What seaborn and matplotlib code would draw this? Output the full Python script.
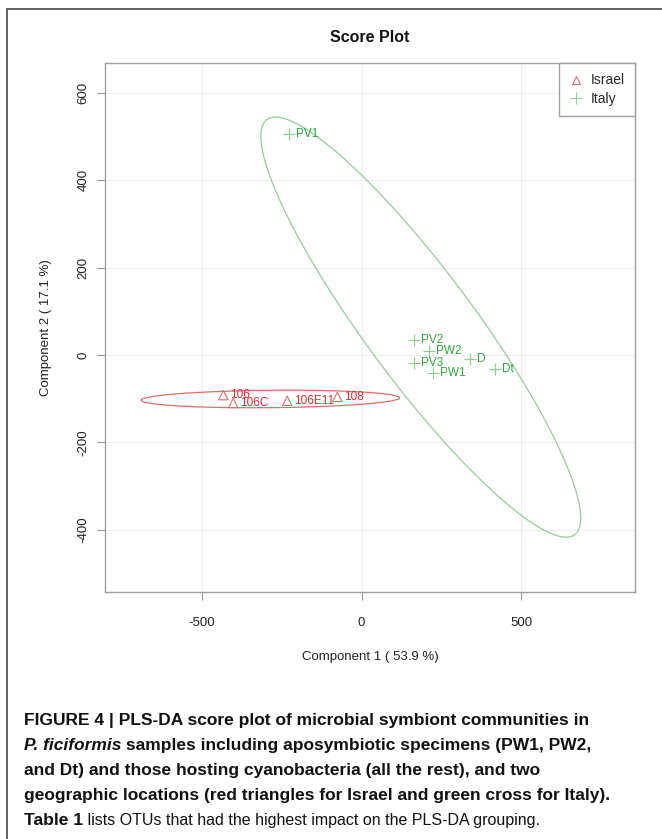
import numpy as np
import pandas as pd
import matplotlib
matplotlib.use('Agg')
import matplotlib.pyplot as plt
from matplotlib.lines import Line2D
from matplotlib.patches import Rectangle
from matplotlib import font_manager
import seaborn as sns

sns.set_style('white')
plt.rcParams['font.family'] = ['Liberation Sans', 'DejaVu Sans']

# PLS-DA scores
samples = ['106', '106C', '106E11', '108',
           'PV1', 'PV2', 'PW2', 'D', 'PV3', 'PW1', 'Dt']
location = ['Israel'] * 4 + ['Italy'] * 7
comp1 = [-433, -402, -233, -76, -227, 165, 212, 340, 165, 225, 419]
comp2 = [-92, -110, -105, -96, 506, 34, 9, -9, -19, -41, -33]

groups = ['Israel', 'Italy']
group_colors = {'Israel': '#E3262E', 'Italy': '#2EA53A'}
ellipse_colors = {'Israel': '#E46A6A', 'Italy': '#8FD08F'}
x_ticks = [-500, 0, 500]
y_ticks = [-400, -200, 0, 200, 400, 600]

caption = [
    [('FIGURE 4 | PLS-DA score plot of microbial symbiont communities in', 'bold', 'normal')],
    [('P. ficiformis', 'bold', 'italic'),
     (' samples including aposymbiotic specimens (PW1, PW2,', 'bold', 'normal')],
    [('and Dt) and those hosting cyanobacteria (all the rest), and two', 'bold', 'normal')],
    [('geographic locations (red triangles for Israel and green cross for Italy).', 'bold', 'normal')],
    [('Table 1', 'bold', 'normal'),
     (' lists OTUs that had the highest impact on the PLS-DA grouping.', 'normal', 'normal')],
]

df = pd.DataFrame({'sample': samples, 'group': location, 'comp1': comp1, 'comp2': comp2})


def conf_ellipse(x, y, chi2=5.991, n=300):
    # 95% confidence ellipse around the group mean
    xy = np.column_stack([x, y]).astype(float)
    c = xy.mean(axis=0)
    cov = np.cov(xy, rowvar=False)
    vals, vecs = np.linalg.eigh(cov)
    t = np.linspace(0, 2 * np.pi, n)
    circ = np.column_stack([np.cos(t), np.sin(t)])
    return c + (circ * np.sqrt(vals * chi2)) @ vecs.T


W, H = 662, 839
fig = plt.figure(figsize=(W / 100, H / 100), dpi=100)
ax = fig.add_axes([105 / W, 1 - 592 / H, 530 / W, 529 / H])

# outer frame of the figure panel
fig.patches.append(Rectangle((7 / W, -0.05), 1.1, 1 - 9 / H + 0.05,
                             transform=fig.transFigure, fill=False,
                             edgecolor='#555555', lw=1.3))

for g in groups:
    sub = df[df['group'] == g]
    e = conf_ellipse(sub['comp1'], sub['comp2'])
    ax.plot(e[:, 0], e[:, 1], color=ellipse_colors[g], lw=0.9, zorder=2)

isr = df[df['group'] == 'Israel']
ita = df[df['group'] == 'Italy']
sns.scatterplot(data=isr, x='comp1', y='comp2', marker='^', s=45,
                facecolors='none', edgecolor=ellipse_colors['Israel'],
                linewidth=0.8, ax=ax, zorder=3)
sns.scatterplot(data=ita, x='comp1', y='comp2', marker='+', s=70,
                color=ellipse_colors['Italy'], linewidth=0.9, ax=ax, zorder=3)

for _, r in df.iterrows():
    ax.annotate(r['sample'], (r['comp1'], r['comp2']), xytext=(5, 0),
                textcoords='offset points', va='center', ha='left',
                fontsize=8.5, color=group_colors[r['group']], zorder=4)

ax.set_xlim(-804, 857)
ax.set_ylim(-543, 669)
ax.set_xticks(x_ticks)
ax.set_yticks(y_ticks)
ax.set_xticklabels([str(v) for v in x_ticks])
ax.set_yticklabels([str(v) for v in y_ticks], rotation=90, va='center')
ax.grid(True, color='#eeeeee', lw=0.8)
ax.set_axisbelow(True)
for sp in ax.spines.values():
    sp.set_color('#a0a0a0')
    sp.set_linewidth(1.0)
ax.tick_params(axis='both', direction='out', length=6, width=0.8,
               color='#909090', labelsize=9.5, labelcolor='#222222',
               bottom=True, left=True)
ax.tick_params(axis='x', pad=12)
ax.tick_params(axis='y', pad=5)

ax.set_xlabel('Component 1 ( 53.9 %)', fontsize=9.5, color='#222222', va='center')
ax.set_ylabel('Component 2 ( 17.1 %)', fontsize=9.5, color='#222222', va='center')
ax.xaxis.set_label_coords(0.5, (592 - 657) / 529)
ax.yaxis.set_label_coords((46 - 105) / 530, 0.5)

fig.text(370 / W, 1 - 37 / H, 'Score Plot', ha='center', va='center',
         fontsize=11.5, fontweight='bold', color='#111111')

handles = [Line2D([], [], ls='none', marker='^', markersize=6, markerfacecolor='none',
                  markeredgecolor=ellipse_colors['Israel'], markeredgewidth=0.8),
           Line2D([], [], ls='none', marker='+', markersize=8,
                  color=ellipse_colors['Italy'], markeredgewidth=0.8)]
leg = ax.legend(handles, groups, loc='upper right', borderaxespad=0,
                fancybox=False, edgecolor='#a0a0a0', fontsize=10,
                handlelength=0.9, handletextpad=0.6, labelspacing=0.3,
                borderpad=0.75, framealpha=1)
leg.get_frame().set_linewidth(1.0)

# caption below the chart, drawn piece by piece for mixed styles
narrow = 'Liberation Sans Narrow'
try:
    font_manager.findfont(narrow, fallback_to_default=False)
    reg_font, reg_size = [narrow, 'DejaVu Sans'], 12.5
except ValueError:
    reg_font, reg_size = ['Liberation Sans', 'DejaVu Sans'], 11.5

renderer = fig.canvas.get_renderer()
baselines = [725, 750, 775, 800, 825]
for pieces, yb in zip(caption, baselines):
    x = 24 / W
    for txt, weight, style in pieces:
        if weight == 'bold':
            fam, size = ['Liberation Sans', 'DejaVu Sans'], 12.5
        else:
            fam, size = reg_font, reg_size
        t = fig.text(x, 1 - yb / H, txt, ha='left', va='baseline', fontsize=size,
                     fontweight=weight, fontstyle=style, family=fam,
                     color='#111111')
        bb = t.get_window_extent(renderer)
        x = bb.x1 / W

fig.savefig('out.png', dpi=100)
